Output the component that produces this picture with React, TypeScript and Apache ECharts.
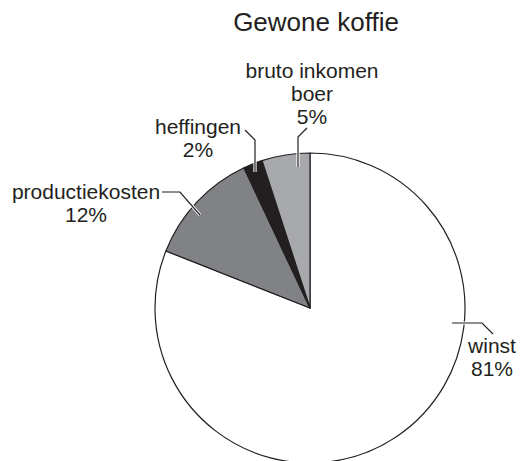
import React, { useEffect, useRef } from "react";
import * as echarts from "echarts";

const categories = ["winst", "productiekosten", "heffingen", "bruto inkomen\nboer"];
const values = [81, 12, 2, 5];
const colors = ["#ffffff", "#808285", "#231f20", "#a7a9ac"];
const titleText = "Gewone koffie";

// label placement: text anchor + leader line points (annotation layout)
const labelPlacements = [
  { x: 492, y: 357, line: [[452, 323], [482, 323], [493, 334]] },
  { x: 86, y: 203, line: [[200, 215], [180, 192], [162, 192]] },
  { x: 198, y: 138, line: [[255, 172], [255, 140], [245, 130]] },
  { x: 312, y: 93, line: [[298, 167], [298, 137], [307, 128]] },
];

export default function App() {
  const ref = useRef<HTMLDivElement>(null);
  useEffect(() => {
    document.body.style.margin = "0";
    const chart = echarts.init(ref.current!, null, { renderer: "svg" });
    const leaderGraphics: any[] = [];
    labelPlacements.forEach((p) => {
      leaderGraphics.push({
        type: "polyline",
        z: 100,
        shape: { points: p.line },
        style: { stroke: "#ffffff", lineWidth: 3.2, fill: null },
        silent: true,
      });
      leaderGraphics.push({
        type: "polyline",
        z: 101,
        shape: { points: p.line },
        style: { stroke: "#231f20", lineWidth: 1.2, fill: null },
        silent: true,
      });
    });
    chart.setOption({
      animation: false,
      backgroundColor: "#ffffff",
      title: {
        text: titleText,
        left: 311,
        top: 4,
        textAlign: "center",
        textStyle: {
          fontFamily: "Liberation Sans",
          fontWeight: "normal",
          fontSize: 26,
          color: "#231f20",
        },
      },
      graphic: leaderGraphics,
      series: [
        {
          type: "pie",
          center: [310, 308],
          radius: 155,
          startAngle: 90,
          clockwise: true,
          data: categories.map((c, i) => ({
            name: c,
            value: values[i],
            itemStyle: { color: colors[i] },
          })),
          itemStyle: { borderColor: "#231f20", borderWidth: 1.2 },
          label: {
            show: true,
            formatter: (p: any) => `${p.name}\n${p.value}%`,
            fontFamily: "Liberation Sans",
            fontSize: 21,
            lineHeight: 23,
            color: "#231f20",
            align: "center",
            overflow: "none",
          },
          labelLine: { show: false },
          labelLayout: (params: any) => {
            const p = labelPlacements[params.dataIndex];
            return {
              x: p.x,
              y: p.y,
              align: "center",
              verticalAlign: "middle",
            };
          },
          emphasis: { disabled: true },
        },
      ],
    });
    return () => chart.dispose();
  }, []);
  return <div ref={ref} style={{ width: 520, height: 461 }} />;
}
